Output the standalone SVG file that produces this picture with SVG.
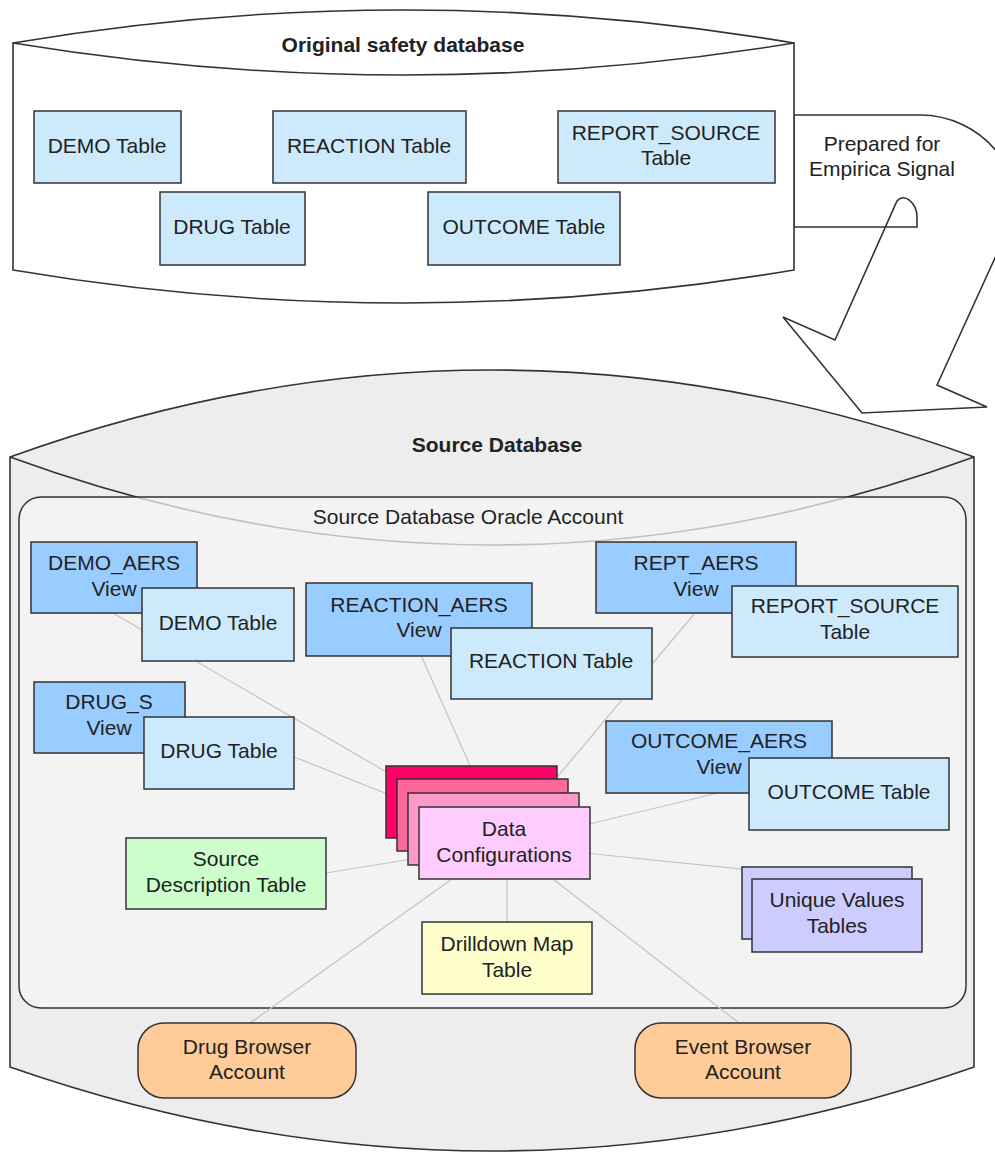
<svg xmlns="http://www.w3.org/2000/svg" width="995" height="1152" viewBox="0 0 995 1152">
<style>
text{font-family:"Liberation Sans",Arial,sans-serif;font-size:21px;fill:#222;text-anchor:middle}
.b{font-weight:bold}
.shape{stroke:#333;stroke-width:1.6}
.tbl{fill:#cdeafd;stroke:#333;stroke-width:1.5}
.view{fill:#99ccff;stroke:#333;stroke-width:1.5}
.con{stroke:#c4c4c4;stroke-width:1.2;fill:none}
</style>
<rect width="995" height="1152" fill="#fff"/>

<g id="source-db">
<path class="shape" fill="#ededed" d="M10 457 Q492 283 974 457 L974 1067 Q492 1235 10 1067 Z"/>
<path class="shape" fill="none" d="M10 457 Q492 633 974 457"/>
<text class="b" x="497" y="452">Source Database</text>
</g>

<g id="oracle-account">
<rect x="19" y="497" width="947" height="511" rx="22" fill="#f5f5f5" fill-opacity="0.72" stroke="#333" stroke-width="1.5"/>
<text x="468" y="524">Source Database Oracle Account</text>
</g>

<g id="connectors">
<line class="con" x1="113" y1="613" x2="390" y2="774"/>
<line class="con" x1="294" y1="757" x2="390" y2="795"/>
<line class="con" x1="326" y1="873" x2="412" y2="859"/>
<line class="con" x1="420" y1="653" x2="472" y2="770"/>
<line class="con" x1="695" y1="613" x2="553" y2="782"/>
<line class="con" x1="718" y1="793" x2="585" y2="825"/>
<line class="con" x1="585" y1="853" x2="837" y2="879"/>
<line class="con" x1="507" y1="875" x2="507" y2="922"/>
<line class="con" x1="452" y1="879" x2="250" y2="1023"/>
<line class="con" x1="553" y1="879" x2="739" y2="1023"/>
</g>

<g id="demo-aers-view">
<rect class="view" x="31" y="542" width="166" height="71"/>
<text x="114" y="570">DEMO_AERS</text><text x="114" y="596">View</text>
</g>
<g id="demo-table">
<rect class="tbl" x="142" y="588" width="152" height="73"/>
<text x="218" y="630">DEMO Table</text>
</g>

<g id="reaction-aers-view">
<rect class="view" x="306" y="583" width="226" height="73"/>
<text x="419" y="612">REACTION_AERS</text><text x="419" y="637">View</text>
</g>
<g id="reaction-table">
<rect class="tbl" x="451" y="628" width="201" height="71"/>
<text x="551" y="668">REACTION Table</text>
</g>

<g id="rept-aers-view">
<rect class="view" x="596" y="542" width="200" height="71"/>
<text x="696" y="570">REPT_AERS</text><text x="696" y="596">View</text>
</g>
<g id="report-source-table">
<rect class="tbl" x="732" y="586" width="226" height="71"/>
<text x="845" y="613">REPORT_SOURCE</text><text x="845" y="639">Table</text>
</g>

<g id="drug-s-view">
<rect class="view" x="34" y="682" width="151" height="71"/>
<text x="109" y="709">DRUG_S</text><text x="109" y="735">View</text>
</g>
<g id="drug-table">
<rect class="tbl" x="144" y="717" width="150" height="72"/>
<text x="219" y="758">DRUG Table</text>
</g>

<g id="outcome-aers-view">
<rect class="view" x="606" y="721" width="226" height="72"/>
<text x="719" y="748">OUTCOME_AERS</text><text x="719" y="774">View</text>
</g>
<g id="outcome-table">
<rect class="tbl" x="749" y="758" width="200" height="72"/>
<text x="849" y="799">OUTCOME Table</text>
</g>

<g id="data-configurations">
<rect x="386" y="766" width="171" height="72" fill="#ff0066" stroke="#333" stroke-width="1.5"/>
<rect x="397" y="779" width="171" height="72" fill="#ff6699" stroke="#333" stroke-width="1.5"/>
<rect x="408" y="793" width="171" height="72" fill="#ff99cc" stroke="#333" stroke-width="1.5"/>
<rect x="419" y="807" width="171" height="72" fill="#ffccff" stroke="#333" stroke-width="1.5"/>
<text x="504" y="836">Data</text><text x="504" y="862">Configurations</text>
</g>

<g id="source-description-table">
<rect x="126" y="838" width="200" height="71" fill="#ccffcc" stroke="#333" stroke-width="1.5"/>
<text x="226" y="866">Source</text><text x="226" y="892">Description Table</text>
</g>

<g id="unique-values-tables">
<rect x="742" y="867" width="170" height="72" fill="#ccccff" stroke="#333" stroke-width="1.5"/>
<rect x="752" y="879" width="170" height="73" fill="#ccccff" stroke="#333" stroke-width="1.5"/>
<text x="837" y="907">Unique Values</text><text x="837" y="933">Tables</text>
</g>

<g id="drilldown-map-table">
<rect x="422" y="922" width="170" height="72" fill="#ffffcc" stroke="#333" stroke-width="1.5"/>
<text x="507" y="951">Drilldown Map</text><text x="507" y="977">Table</text>
</g>

<g id="drug-browser-account">
<rect x="138" y="1023" width="218" height="75" rx="26" fill="#ffcc99" stroke="#333" stroke-width="1.5"/>
<text x="247" y="1054">Drug Browser</text><text x="247" y="1079">Account</text>
</g>

<g id="event-browser-account">
<rect x="635" y="1023" width="216" height="75" rx="26" fill="#ffcc99" stroke="#333" stroke-width="1.5"/>
<text x="743" y="1054">Event Browser</text><text x="743" y="1079">Account</text>
</g>

<g id="prepared-arrow">
<path class="shape" fill="#fff" stroke-linejoin="miter" d="M794 115 L920 115 C980 115 1030 170 1010 225 L937 385 L987 407 L862 413 L783 317 L835 340 L897 201 C904 192 917 203 917 217 L917 227 L794 227 Z"/>
<text x="882" y="151">Prepared for</text><text x="882" y="176">Empirica Signal</text>
</g>

<g id="original-db">
<path class="shape" fill="#fff" d="M13 43 Q403 -23 794 43 L794 270 Q403 336 13 270 Z"/>
<path class="shape" fill="none" d="M13 43 Q403 107 794 43"/>
<text class="b" x="403" y="52">Original safety database</text>
</g>

<g id="orig-demo-table">
<rect class="tbl" x="34" y="111" width="147" height="72"/>
<text x="107" y="153">DEMO Table</text>
</g>
<g id="orig-reaction-table">
<rect class="tbl" x="273" y="111" width="193" height="72"/>
<text x="369" y="153">REACTION Table</text>
</g>
<g id="orig-report-source-table">
<rect class="tbl" x="558" y="111" width="217" height="72"/>
<text x="666" y="140">REPORT_SOURCE</text><text x="666" y="165">Table</text>
</g>
<g id="orig-drug-table">
<rect class="tbl" x="160" y="192" width="145" height="73"/>
<text x="232" y="234">DRUG Table</text>
</g>
<g id="orig-outcome-table">
<rect class="tbl" x="428" y="192" width="192" height="73"/>
<text x="524" y="234">OUTCOME Table</text>
</g>
</svg>
